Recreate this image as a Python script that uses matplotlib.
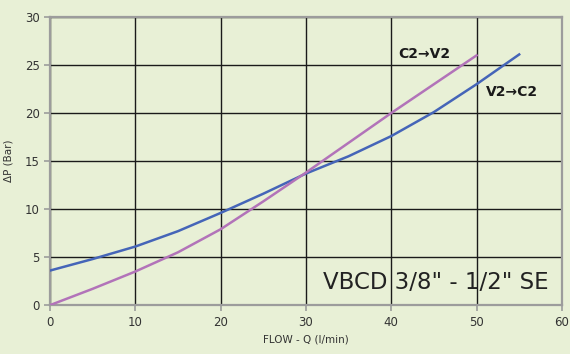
import matplotlib
matplotlib.use("Agg")
import matplotlib.pyplot as plt

BG = "#e8f0d6"
BLUE = "#4565b8"
PURPLE = "#b273b9"
FRAME = "#9c9c9c"

flow = [0, 5, 10, 15, 20, 25, 30, 35, 40, 45, 50, 55]
dp_v2_c2 = [3.6, 4.8, 6.1, 7.7, 9.6, 11.6, 13.7, 15.5, 17.6, 20.1, 23.0, 26.1]
flow_c2 = [0, 5, 10, 15, 20, 25, 30, 35, 40, 45, 50]
dp_c2_v2 = [0.0, 1.7, 3.5, 5.5, 7.9, 10.8, 13.8, 16.9, 20.0, 23.0, 26.0]
xticks = [0, 10, 20, 30, 40, 50, 60]
yticks = [0, 5, 10, 15, 20, 25, 30]

plt.rcParams.update({"font.family": "DejaVu Sans", "font.size": 8.5})
fig = plt.figure(figsize=(5.7, 3.54), dpi=100, facecolor=BG)
ax = fig.add_axes([0.0877, 0.138, 0.898, 0.814], facecolor=BG)

ax.set_xlim(0, 60)
ax.set_ylim(0, 30)
ax.set_xticks(xticks)
ax.set_yticks(yticks)
ax.grid(True, color="#1a1a1a", lw=1.0)
ax.set_axisbelow(True)
for s in ax.spines.values():
    s.set_color(FRAME)
    s.set_linewidth(1.6)
ax.tick_params(direction="out", length=4, color=FRAME, width=1.2,
               labelcolor="#333333", labelsize=8.5)

ax.plot(flow, dp_v2_c2, color=BLUE, lw=1.8, zorder=3, solid_joinstyle="round")
ax.plot(flow_c2, dp_c2_v2, color=PURPLE, lw=1.8, zorder=3, solid_joinstyle="round")

ax.text(43.9, 26.1, "C2\u2192V2", ha="center", va="center", fontsize=10,
        fontweight="bold", color="#1a1a1a")
ax.text(51.1, 22.2, "V2\u2192C2", ha="left", va="center", fontsize=10,
        fontweight="bold", color="#1a1a1a")
ax.text(0.975, 0.08, "VBCD 3/8\" - 1/2\" SE", transform=ax.transAxes,
        ha="right", va="center", fontsize=16.5, color="#222222")

ax.set_xlabel("FLOW - Q (l/min)", fontsize=7.5, color="#333333", labelpad=4)
ax.set_ylabel("\u0394P (Bar)", fontsize=7.5, color="#333333", labelpad=8)

fig.savefig("out.png", dpi=100, facecolor=BG)
